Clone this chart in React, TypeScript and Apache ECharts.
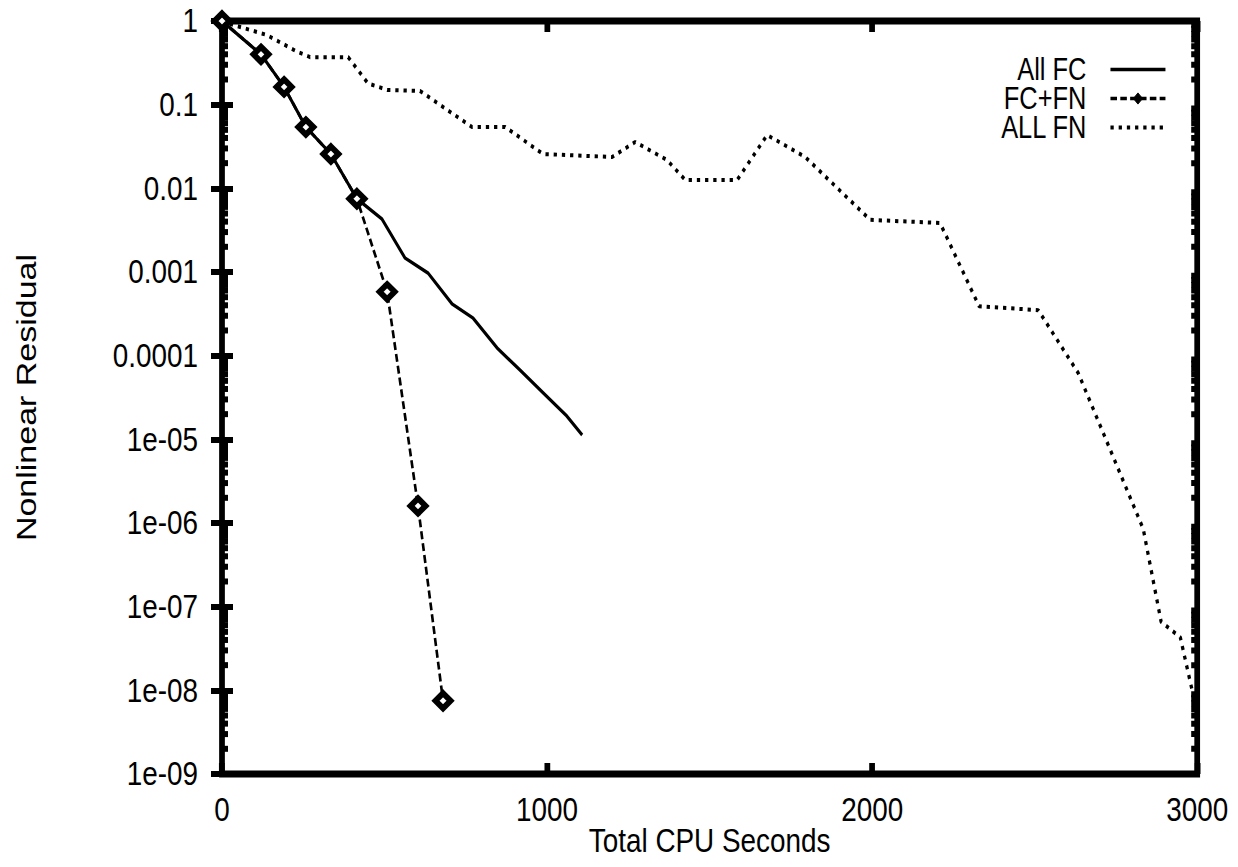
import React, { useEffect, useRef } from 'react';
import * as echarts from 'echarts';

const seriesNames = ['All FC', 'FC+FN', 'ALL FN'];

const allFcSeconds = [0, 120, 191, 258, 335, 415, 492, 563, 634, 708, 772, 846, 917, 988, 1058, 1108];
const allFcResidual = [1, 0.40, 0.163, 0.054, 0.0257, 0.0075, 0.0043, 0.00147, 0.00097, 0.000415, 0.000282, 0.000124, 6.7e-5, 3.6e-5, 1.95e-5, 1.13e-5];

const fcFnSeconds = [0, 120, 191, 258, 335, 415, 508, 603, 680];
const fcFnResidual = [1, 0.40, 0.163, 0.054, 0.0257, 0.0075, 5.8e-4, 1.6e-6, 7.5e-9];

const allFnSeconds = [0, 34, 138, 231, 271, 388, 449, 508, 609, 769, 871, 988, 1200, 1271, 1369, 1425, 1585, 1677, 1794, 1994, 2209, 2329, 2511, 2634, 2834, 2889, 2948, 2991];
const allFnResidual = [1, 0.90, 0.68, 0.43, 0.37, 0.37, 0.18, 0.15, 0.146, 0.054, 0.054, 0.0257, 0.0237, 0.0358, 0.0218, 0.0126, 0.0126, 0.0434, 0.0237, 0.0042, 0.00385, 0.00039, 0.00035, 6.2e-5, 8.5e-7, 6.6e-8, 4.3e-8, 7.7e-9];

const yTickLabels = ['1', '0.1', '0.01', '0.001', '0.0001', '1e-05', '1e-06', '1e-07', '1e-08', '1e-09'];
const xTickLabels = ['0', '1000', '2000', '3000'];
const minorMultipliers = [2, 3, 4, 5, 6, 7, 8, 9];

const X_MIN = 0;
const X_MAX = 3000;
const X_INTERVAL = 1000;
const Y_MIN = 1e-9;
const Y_MAX = 1;

// The reference is horizontally compressed; the chart is drawn wider and squeezed with CSS.
const SQUEEZE = 0.82;
const PAGE_W = 1238;
const PAGE_H = 867;
const sx = (v: number) => v / SQUEEZE;

const FONT = "'Liberation Sans', Arial, Helvetica, sans-serif";

const zip = (xs: number[], ys: number[]) => xs.map((x, i) => [x, ys[i]]);

export default function App() {
  const ref = useRef<HTMLDivElement>(null);

  useEffect(() => {
    if (!ref.current) return;
    const chart = echarts.init(ref.current, undefined, { renderer: 'svg' });

    const minorTicks: number[][] = [];
    for (let e = -9; e < 0; e++) {
      minorMultipliers.forEach((m) => minorTicks.push([0, m * Math.pow(10, e)]));
    }

    const xTickStyle = { inside: true, length: 11, lineStyle: { color: '#000', width: 7 } };
    const yTickStyle = { inside: true, length: sx(11), lineStyle: { color: '#000', width: 6 } };

    const option: any = {
      animation: false,
      backgroundColor: '#fff',
      textStyle: { fontFamily: FONT },
      grid: {
        left: sx(222),
        right: sx(41),
        top: 21,
        bottom: 93,
        containLabel: false,
        outerBoundsMode: 'none',
        show: true,
        borderColor: '#000',
        borderWidth: 7,
        backgroundColor: 'transparent',
      },
      legend: {
        data: [
          { name: seriesNames[0], itemStyle: { opacity: 0 }, lineStyle: { width: 3.5 } },
          { name: seriesNames[1], itemStyle: { color: '#000', borderColor: '#000', borderWidth: 1 }, lineStyle: { width: 3.5 } },
          { name: seriesNames[2], itemStyle: { opacity: 0 }, lineStyle: { width: 4 } },
        ],
        orient: 'vertical',
        align: 'right',
        right: sx(67),
        top: 49,
        itemWidth: sx(55),
        itemHeight: 14,
        itemGap: -2,
        textStyle: { fontFamily: FONT, fontSize: 31, color: '#000', padding: [0, sx(20), 0, 0] },
      },
      xAxis: [
        {
          type: 'value',
          min: X_MIN,
          max: X_MAX,
          interval: X_INTERVAL,
          position: 'bottom',
          name: 'Total CPU Seconds',
          nameLocation: 'middle',
          nameGap: 50,
          nameMoveOverlap: false,
          nameTextStyle: { fontFamily: FONT, fontSize: 34, color: '#000', lineHeight: 34 },
          axisLine: { show: false },
          axisTick: xTickStyle,
          splitLine: { show: false },
          axisLabel: {
            fontFamily: FONT,
            fontSize: 34,
            color: '#000',
            margin: 19,
            formatter: (v: number) => xTickLabels[Math.round(v / X_INTERVAL)] ?? String(v),
          },
        },
        {
          type: 'value',
          min: X_MIN,
          max: X_MAX,
          interval: X_INTERVAL,
          position: 'top',
          axisLine: { show: false },
          axisTick: xTickStyle,
          splitLine: { show: false },
          axisLabel: { show: false },
        },
      ],
      yAxis: [
        {
          type: 'log',
          logBase: 10,
          min: Y_MIN,
          max: Y_MAX,
          position: 'left',
          name: 'Nonlinear Residual',
          nameLocation: 'middle',
          nameGap: 221,
          nameRotate: 90,
          nameMoveOverlap: false,
          nameTextStyle: { fontFamily: FONT, fontSize: 34, color: '#000' },
          axisLine: { show: false },
          axisTick: yTickStyle,
          splitLine: { show: false },
          minorTick: { show: false },
          axisLabel: {
            fontFamily: FONT,
            fontSize: 34,
            color: '#000',
            margin: sx(24),
            formatter: (v: number) => yTickLabels[Math.round(-Math.log10(v))] ?? String(v),
          },
        },
        {
          type: 'log',
          logBase: 10,
          min: Y_MIN,
          max: Y_MAX,
          position: 'right',
          axisLine: { show: false },
          axisTick: yTickStyle,
          splitLine: { show: false },
          axisLabel: { show: false },
        },
      ],
      series: [
        {
          name: seriesNames[0],
          type: 'line',
          data: zip(allFcSeconds, allFcResidual),
          symbol: 'none',
          lineStyle: { color: '#000', width: 3.5, type: 'solid' },
          itemStyle: { color: '#000' },
          z: 3,
        },
        {
          name: seriesNames[1],
          type: 'line',
          data: zip(fcFnSeconds, fcFnResidual),
          symbol: 'diamond',
          symbolSize: [sx(15), 15],
          showAllSymbol: true,
          lineStyle: { color: '#000', width: 3.2, type: [8, 4] },
          itemStyle: { color: '#fff', borderColor: '#000', borderWidth: 6.5 },
          z: 4,
        },
        {
          name: seriesNames[2],
          type: 'line',
          data: zip(allFnSeconds, allFnResidual),
          symbol: 'none',
          lineStyle: { color: '#000', width: 4, type: [4, 6], cap: 'butt' },
          itemStyle: { color: '#000' },
          z: 2,
        },
        {
          name: 'minor-ticks',
          type: 'custom',
          silent: true,
          data: minorTicks,
          renderItem: (params: any, api: any) => {
            const cs = params.coordSys;
            const y = api.coord([0, api.value(1)])[1];
            const len = sx(6);
            return {
              type: 'group',
              children: [
                { type: 'line', shape: { x1: cs.x, y1: y, x2: cs.x + len, y2: y }, style: { stroke: '#000', lineWidth: 6 } },
                { type: 'line', shape: { x1: cs.x + cs.width - len, y1: y, x2: cs.x + cs.width, y2: y }, style: { stroke: '#000', lineWidth: 6 } },
              ],
            };
          },
          z: 1,
        },
      ],
    };

    chart.setOption(option);
    return () => chart.dispose();
  }, []);

  return (
    <div
      ref={ref}
      style={{
        position: 'fixed',
        left: 0,
        top: 0,
        width: sx(PAGE_W),
        height: PAGE_H,
        background: '#fff',
        transform: `scaleX(${SQUEEZE})`,
        transformOrigin: '0 0',
      }}
    />
  );
}
